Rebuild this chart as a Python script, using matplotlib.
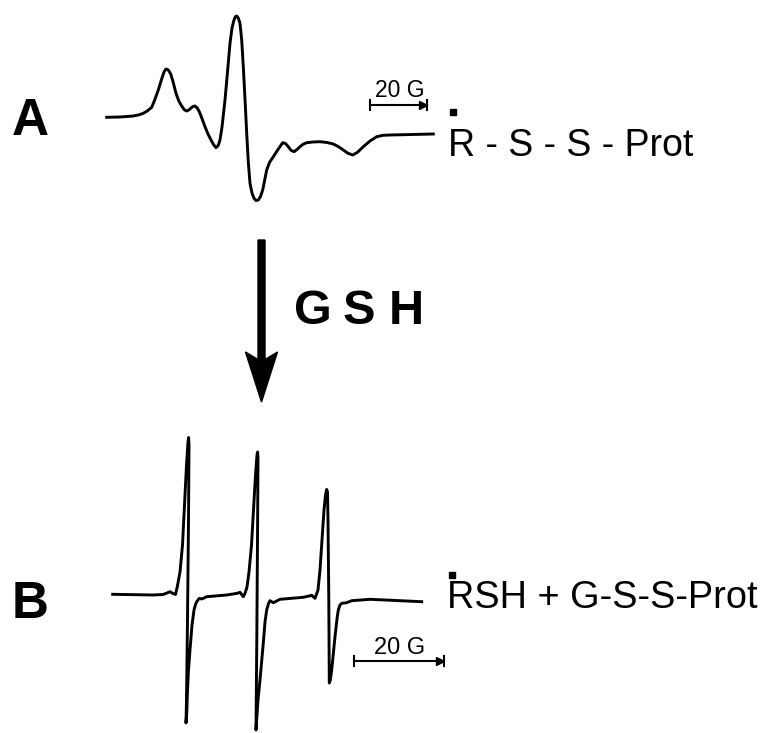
import numpy as np
import matplotlib.pyplot as plt

plt.rcParams['font.family'] = ['Liberation Sans', 'DejaVu Sans']

# traced spectra (image units: x = field position, y = signal, y grows downward)
top_x = [106.7, 120.0, 133.3, 139.0, 143.3, 147.5, 151.7, 154.5, 158.3, 161.5, 164.0,
         166.0, 168.3, 170.7, 173.0, 176.0, 178.8, 181.7, 184.3, 186.7, 188.8, 190.7,
         193.0, 195.0, 197.2, 199.3, 202.0, 205.0, 208.0, 211.0, 213.5, 216.0, 218.2,
         220.0, 222.0, 225.0, 227.5, 230.0, 232.0, 234.0, 235.5, 236.7, 238.3, 240.0,
         241.7, 243.3, 245.0, 246.7, 248.3, 250.0, 252.0, 254.0, 256.0, 258.3, 260.5,
         262.7, 264.7, 266.7, 269.5, 273.3, 278.0, 282.7, 285.5, 288.3, 291.0, 294.0,
         297.0, 300.0, 303.0, 306.7, 313.0, 320.0, 327.0, 333.3, 338.5, 343.3, 348.0,
         352.7, 357.5, 363.3, 370.0, 376.7, 383.0, 390.0, 433.3]
top_y = [117.3, 117.0, 116.0, 114.8, 113.3, 110.8, 107.3, 100.5, 90.0, 79.5, 72.0,
         69.0, 70.0, 74.0, 81.5, 93.3, 101.0, 106.0, 109.8, 111.0, 110.0, 108.3,
         106.5, 106.0, 108.0, 111.7, 118.5, 126.7, 134.0, 140.0, 144.5, 147.7, 145.5,
         140.0, 127.0, 100.0, 72.0, 43.3, 28.0, 20.0, 16.5, 16.0, 18.0, 23.3,
         40.0, 66.7, 99.0, 133.3, 162.0, 183.3, 193.0, 198.3, 200.5, 200.0, 196.5,
         190.0, 180.0, 170.0, 162.5, 156.7, 149.5, 142.7, 143.5, 146.7, 150.3, 151.7,
         149.5, 146.7, 144.3, 142.7, 142.0, 141.7, 142.5, 144.0, 146.7, 150.0, 153.3,
         155.0, 152.3, 146.7, 141.0, 136.7, 135.3, 135.0, 134.0]

bot_x = [112.7, 153.0, 163.0, 167.0, 170.0, 173.0, 175.5, 177.3, 180.0, 182.5, 184.5,
         186.5, 188.0, 188.6, 189.0, 188.5, 187.5, 186.5, 186.0, 186.8, 187.5, 188.5,
         190.0, 192.0, 194.0, 195.5, 196.7, 199.3, 201.7, 206.7, 226.7, 237.3, 240.0,
         243.3, 245.0, 247.0, 249.0, 251.5, 253.5, 255.5, 257.0, 257.6, 258.0, 257.5,
         256.8, 256.0, 256.8, 258.0, 260.0, 263.3, 265.0, 266.7, 268.5, 270.0, 273.3,
         280.0, 303.3, 309.0, 311.7, 315.0, 318.0, 320.0, 322.0, 324.0, 325.5, 326.7,
         327.5, 328.0, 328.8, 329.3, 330.3, 331.7, 335.0, 337.0, 338.3, 340.0, 341.7,
         346.7, 351.7, 370.0, 421.7]
bot_y = [594.3, 595.0, 594.5, 593.0, 591.7, 593.5, 594.5, 586.7, 572.0, 545.0, 505.0,
         465.0, 442.0, 437.5, 445.0, 520.0, 620.0, 700.0, 723.0, 712.0, 690.0, 670.0,
         650.0, 625.0, 610.0, 604.5, 601.7, 598.3, 599.0, 596.7, 595.0, 593.3, 592.3,
         596.7, 593.3, 587.0, 572.0, 545.0, 510.0, 475.0, 455.0, 452.0, 458.0, 540.0,
         640.0, 730.0, 718.0, 700.0, 680.0, 643.0, 622.0, 610.0, 603.5, 600.7, 602.7,
         599.3, 597.3, 596.0, 595.3, 598.3, 590.0, 570.0, 540.0, 510.0, 495.0, 489.5,
         492.0, 520.0, 600.0, 683.0, 680.0, 670.0, 636.7, 619.0, 610.0, 605.0, 603.3,
         602.7, 600.7, 599.3, 601.7]

fig = plt.figure(figsize=(7.66, 7.33), dpi=100)
ax = fig.add_axes([0, 0, 1, 1])
ax.set_xlim(0, 766)
ax.set_ylim(733, 0)
ax.axis('off')

ax.plot(top_x, top_y, color='black', lw=2.1, solid_joinstyle='round')
ax.plot(bot_x, bot_y, color='black', lw=2.1, solid_joinstyle='round')

# panel letters
ax.text(12, 135, 'A', fontsize=37, fontweight='bold', va='baseline')
ax.text(12, 618.5, 'B', fontsize=37, fontweight='bold', va='baseline')

# labels with radical dot
ax.text(448, 156, 'R - S - S - Prot', fontsize=27, va='baseline')
ax.plot([452.5], [111.5], marker='s', ms=4, color='black')
ax.text(447, 608, 'RSH + G-S-S-Prot', fontsize=27.3, va='baseline')
ax.plot([452], [575], marker='s', ms=4, color='black')

# arrow with GSH
ax.arrow(261.5, 240, 0, 162, width=7, head_width=32, head_length=50,
         length_includes_head=True, overhang=0.15, color='black')
for letter, xc in zip(['G', 'S', 'H'], [312.5, 359.0, 406.7]):
    ax.text(xc, 324, letter, fontsize=35, fontweight='bold', ha='center', va='baseline')

# scale bars
def scale_bar(x0, x1, y, label_y, fs):
    ax.plot([x0, x1], [y, y], color='black', lw=1.5)
    ax.plot([x0, x0], [y - 5, y + 5], color='black', lw=1.5)
    ax.plot([x1, x1], [y - 5, y + 5], color='black', lw=1.5)
    ax.plot([x1 - 4], [y], marker='>', ms=6, color='black')
    ax.text((x0 + x1) / 2 + 1, label_y, '20 G', fontsize=fs, ha='center', va='baseline')

scale_bar(370, 427, 105, 97, 16.5)
scale_bar(354, 444, 661, 653.5, 17)

fig.savefig('out.png', dpi=100, facecolor='white')
